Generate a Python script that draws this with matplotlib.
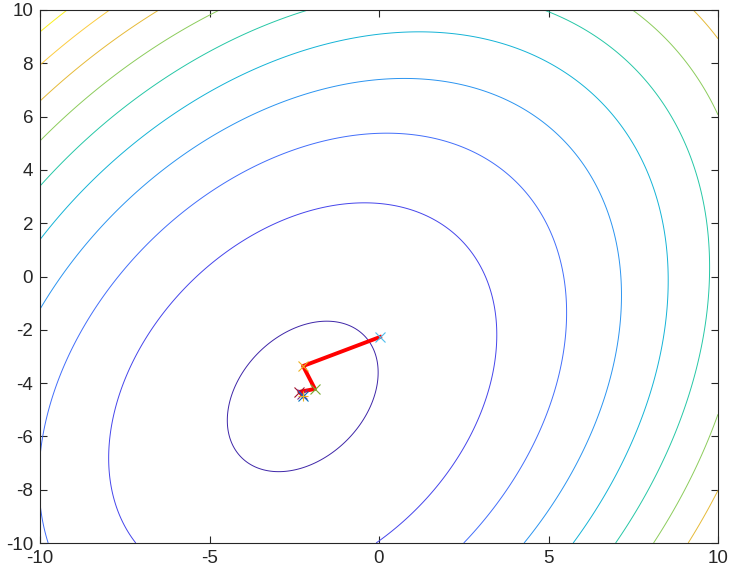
import numpy as np
import matplotlib
matplotlib.use("Agg")
import matplotlib.pyplot as plt

# Quadratic cost surface
center = (-2.25, -4.5)
quad_a, quad_b, quad_c = 0.2248, -0.0564, 0.1396   # f = a dx^2 + 2 b dx dy + c dy^2
levels = [1.0, 6.62, 12.24, 17.86, 23.48, 29.1, 34.72, 40.34, 45.96, 51.58]
level_colors = [(0.2422, 0.1504, 0.6603), (0.2700, 0.2700, 0.9200), (0.2600, 0.4300, 0.9800),
                (0.1700, 0.5800, 0.9400), (0.0800, 0.7000, 0.8400), (0.1500, 0.7800, 0.6500),
                (0.5500, 0.8000, 0.3600), (0.9000, 0.7300, 0.2200), (0.9900, 0.8000, 0.2500),
                (0.9800, 0.9400, 0.1200)]

# Descent path
path_x = [0.03, -2.24, -1.89, -2.35, -2.28, -2.25, -2.23]
path_y = [-2.27, -3.36, -4.22, -4.33, -4.42, -4.47, -4.50]
marker_colors = [(0.301, 0.745, 0.933), (0.929, 0.694, 0.125), (0.466, 0.674, 0.188),
                 (0.635, 0.078, 0.184), (0.494, 0.184, 0.556), (0.0, 0.447, 0.741),
                 (0.929, 0.694, 0.125)]
marker_shapes = ['x', 'x', 'x', 'x', 'x', 'x', '+']

x_ticks = [-10, -5, 0, 5, 10]
y_ticks = [-10, -8, -6, -4, -2, 0, 2, 4, 6, 8, 10]

plt.rcParams['font.family'] = ['Liberation Sans', 'DejaVu Sans']
plt.rcParams['axes.unicode_minus'] = False

fig = plt.figure(figsize=(7.32, 5.77), dpi=100)
ax = fig.add_axes([40 / 732, (577 - 543) / 577, 678 / 732, 533 / 577])

gx = np.linspace(-10, 10, 401)
gy = np.linspace(-10, 10, 401)
X, Y = np.meshgrid(gx, gy)
dx = X - center[0]
dy = Y - center[1]
Z = quad_a * dx**2 + 2 * quad_b * dx * dy + quad_c * dy**2

ax.contour(X, Y, Z, levels=levels, colors=level_colors, linewidths=0.7)

ax.plot(path_x, path_y, color='red', linewidth=2.8, zorder=3)
for px, py, c, m in zip(path_x, path_y, marker_colors, marker_shapes):
    ax.plot([px], [py], linestyle='none', marker=m, color=c, markersize=7,
            markeredgewidth=0.8, zorder=4)

ax.set_xlim(-10, 10)
ax.set_ylim(-10, 10)
ax.set_xticks(x_ticks)
ax.set_yticks(y_ticks)
ax.tick_params(direction='in', length=5, width=0.8, top=True, right=True,
               labelsize=13.5, colors='#262626', pad=5)
for s in ax.spines.values():
    s.set_color('#262626')
    s.set_linewidth(0.8)

fig.savefig('out.png', dpi=100)
